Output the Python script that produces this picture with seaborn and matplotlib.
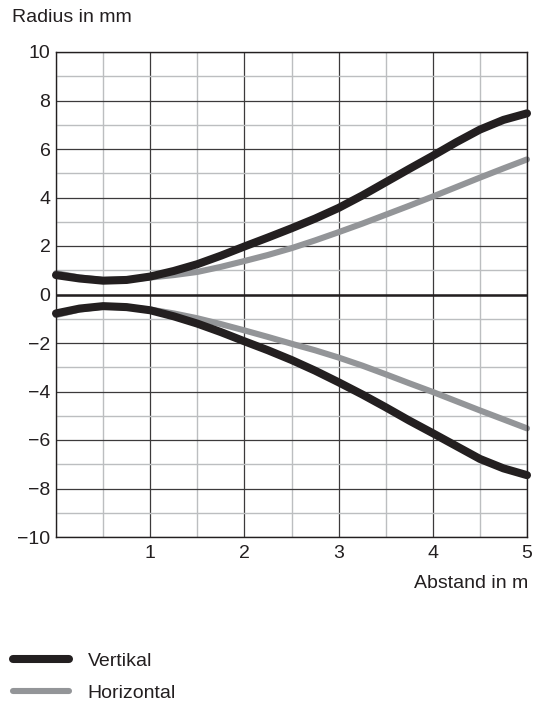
import pandas as pd
import matplotlib.pyplot as plt
import seaborn as sns
from matplotlib.ticker import MultipleLocator

# Abstand in m (read every 0.25 m)
abstand = [0.0, 0.25, 0.5, 0.75, 1.0, 1.25, 1.5, 1.75, 2.0, 2.25, 2.5,
           2.75, 3.0, 3.25, 3.5, 3.75, 4.0, 4.25, 4.5, 4.75, 5.0]

# Radius in mm, upper and lower envelope
vertikal_oben = [0.8, 0.66, 0.57, 0.6, 0.74, 0.97, 1.25, 1.6, 1.98, 2.35, 2.73,
                 3.13, 3.57, 4.08, 4.63, 5.18, 5.72, 6.28, 6.8, 7.2, 7.47]
vertikal_unten = [-0.78, -0.58, -0.48, -0.52, -0.65, -0.9, -1.2, -1.55, -1.93, -2.3, -2.7,
                  -3.14, -3.62, -4.12, -4.65, -5.2, -5.72, -6.25, -6.78, -7.17, -7.45]
horizontal_oben = [0.88, 0.7, 0.6, 0.62, 0.7, 0.8, 0.93, 1.14, 1.38, 1.63, 1.91,
                   2.23, 2.57, 2.92, 3.29, 3.66, 4.04, 4.43, 4.82, 5.2, 5.57]
horizontal_unten = [-0.85, -0.62, -0.5, -0.53, -0.62, -0.78, -0.98, -1.22, -1.48, -1.75, -2.03,
                    -2.3, -2.6, -2.93, -3.29, -3.66, -4.02, -4.4, -4.78, -5.15, -5.52]

x_ticks = [1, 2, 3, 4, 5]
y_ticks = list(range(-10, 11, 2))

dark = "#231f20"
grey = "#939598"
light = "#bcbec0"

rows = []
for name, side, vals in [("Horizontal", "oben", horizontal_oben),
                         ("Horizontal", "unten", horizontal_unten),
                         ("Vertikal", "oben", vertikal_oben),
                         ("Vertikal", "unten", vertikal_unten)]:
    for a, r in zip(abstand, vals):
        rows.append({"Abstand": a, "Radius": r, "Richtung": name, "Seite": side})
df = pd.DataFrame(rows)

sns.set_theme(style="white")
plt.rcParams["font.family"] = ["Liberation Sans", "DejaVu Sans"]
plt.rcParams["text.color"] = dark

fig = plt.figure(figsize=(5.35, 7.04), dpi=100)
ax = fig.add_axes([56 / 535, 1 - 537 / 704, 471 / 535, 485 / 704])

ax.xaxis.set_minor_locator(MultipleLocator(0.5))
ax.yaxis.set_minor_locator(MultipleLocator(1))
ax.grid(which="minor", color=light, linewidth=1.0, zorder=0)
ax.grid(which="major", color="#3c3a3b", linewidth=0.9, zorder=0)
ax.set_axisbelow(True)
ax.axhline(0, color=dark, linewidth=1.8, zorder=1)

styles = {"Horizontal": (grey, 4.4), "Vertikal": (dark, 5.8)}
handles = {}
for name in ["Horizontal", "Vertikal"]:
    sub = df[df["Richtung"] == name]
    color, lw = styles[name]
    sns.lineplot(data=sub, x="Abstand", y="Radius", units="Seite", estimator=None,
                 color=color, linewidth=lw, ax=ax, legend=False, sort=True)
    for line in ax.lines[-2:]:
        line.set_solid_capstyle("round")
        line.set_solid_joinstyle("round")
        line.set_clip_on(False)
    handles[name] = ax.lines[-1]

ax.set_xlim(0, 5)
ax.set_ylim(-10, 10)
ax.set_xticks(x_ticks)
ax.set_yticks(y_ticks)
ax.tick_params(axis="both", length=0, labelsize=14, labelcolor=dark, pad=4)
ax.tick_params(axis="x", pad=6)
ax.set_xlabel("")
ax.set_ylabel("")
for s in ax.spines.values():
    s.set_color(dark)
    s.set_linewidth(1.0)

fig.text(12 / 535, 1 - 17 / 704, "Radius in mm", fontsize=14, va="center", ha="left")
fig.text(528 / 535, 1 - 583 / 704, "Abstand in m", fontsize=14, va="center", ha="right")

leg = fig.legend([handles["Vertikal"], handles["Horizontal"]], ["Vertikal", "Horizontal"],
                 loc="upper left", bbox_to_anchor=(13 / 535, 0.073), frameon=False,
                 borderpad=0, borderaxespad=0,
                 fontsize=14, handlelength=2.9, handletextpad=0.95, labelspacing=0.72)
for h in leg.legend_handles:
    h.set_solid_capstyle("round")

fig.savefig("out.png", dpi=100)
